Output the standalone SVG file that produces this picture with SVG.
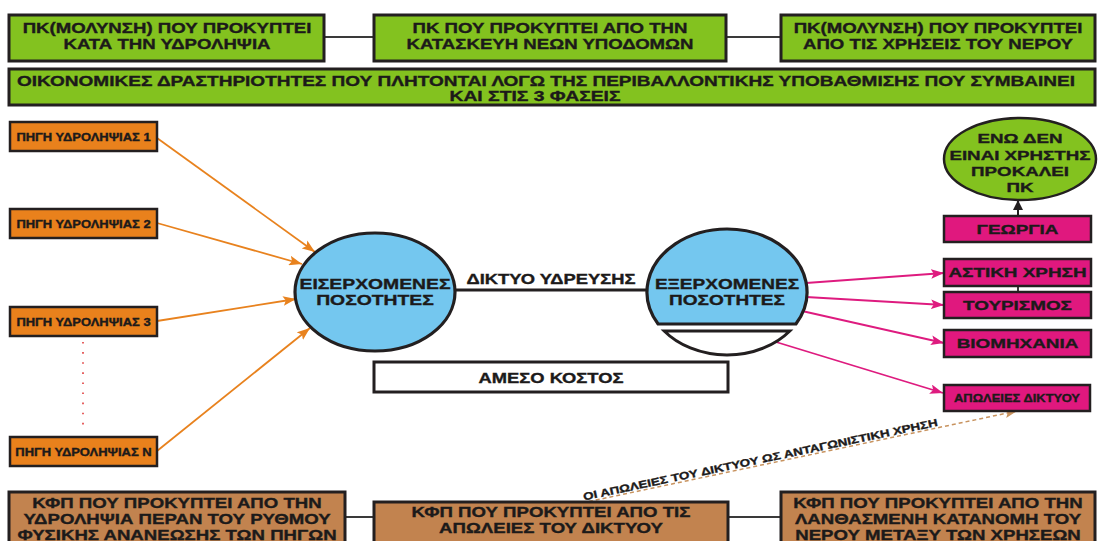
<svg xmlns="http://www.w3.org/2000/svg" width="1107" height="541" viewBox="0 0 1107 541">
  <style>
    .lbl{font-family:"Liberation Sans",Arial,sans-serif;font-weight:bold;fill:#1c1a1a;stroke:#1c1a1a;stroke-width:0.35;text-anchor:middle}
    .green{fill:#83C21F;stroke:#231F20;stroke-width:3}
    .orange{fill:#E9811C;stroke:#231F20;stroke-width:2.5}
    .magenta{fill:#E0187E;stroke:#231F20;stroke-width:2.5}
    .brown{fill:#C2834F;stroke:#231F20;stroke-width:3}
    .blue{fill:#74C7EF;stroke:#231F20;stroke-width:3.2}
    .plain{fill:#fff;stroke:#231F20;stroke-width:3}
    .link{stroke:#3a3a3a;stroke-width:2;fill:none}
    .oarr{stroke:#E8821E;stroke-width:1.8;fill:none;marker-end:url(#headO)}
    .marr{stroke:#DE1B7F;stroke-width:1.8;fill:none;marker-end:url(#headM)}
  </style>
  <defs>
    <marker id="headO" viewBox="0 0 12 9" refX="12" refY="4.5" markerWidth="13" markerHeight="10" markerUnits="userSpaceOnUse" orient="auto">
      <path d="M0,0 L12,4.5 L0,9 L2.5,4.5 Z" fill="#E8821E"/>
    </marker>
    <marker id="headM" viewBox="0 0 12 9" refX="12" refY="4.5" markerWidth="13" markerHeight="10" markerUnits="userSpaceOnUse" orient="auto">
      <path d="M0,0 L12,4.5 L0,9 L2.5,4.5 Z" fill="#DE1B7F"/>
    </marker>
    <marker id="headK" viewBox="0 0 10 10" refX="10" refY="5" markerWidth="10" markerHeight="10" markerUnits="userSpaceOnUse" orient="auto">
      <path d="M0,0 L10,5 L0,10 Z" fill="#231F20"/>
    </marker>
    <marker id="headT" viewBox="0 0 12 9" refX="12" refY="4.5" markerWidth="12" markerHeight="9" markerUnits="userSpaceOnUse" orient="auto">
      <path d="M0,0 L12,4.5 L0,9 L2.5,4.5 Z" fill="#C8935F"/>
    </marker>
  </defs>

  <rect width="1107" height="541" fill="#fff"/>

  <!-- connectors -->
  <g id="connectors">
    <line class="link" x1="324" y1="37" x2="374" y2="37"/>
    <line class="link" x1="726" y1="37" x2="781" y2="37"/>
    <line class="link" x1="345" y1="517" x2="374" y2="517"/>
    <line class="link" x1="728" y1="517" x2="781" y2="517"/>
    <line x1="455" y1="290" x2="647" y2="290" stroke="#231F20" stroke-width="3"/>
    <line class="link" x1="1018" y1="286" x2="1018" y2="292"/>
    <line x1="83" y1="342" x2="83" y2="432" stroke="#E03A3A" stroke-width="1.6" stroke-dasharray="1.6 8.5"/>
    <line class="oarr" x1="157" y1="138" x2="315" y2="252"/>
    <line class="oarr" x1="157" y1="223" x2="302" y2="264"/>
    <line class="oarr" x1="157" y1="321" x2="296" y2="299"/>
    <line class="oarr" x1="157" y1="451" x2="310" y2="328"/>
    <line class="marr" x1="806" y1="283" x2="944" y2="273"/>
    <line class="marr" x1="806" y1="297" x2="944" y2="305"/>
    <line class="marr" x1="802" y1="311" x2="944" y2="343"/>
    <line class="marr" x1="776" y1="342" x2="943" y2="393"/>
    <line x1="1018" y1="216" x2="1018" y2="200" stroke="#231F20" stroke-width="2" marker-end="url(#headK)"/>
    <line x1="582" y1="503" x2="1017" y2="411" stroke="#C8935F" stroke-width="1.5" stroke-dasharray="4 3" marker-end="url(#headT)"/>
    <text class="lbl" font-size="10.5" style="text-anchor:start" textLength="362" lengthAdjust="spacingAndGlyphs" transform="translate(584 500.5) rotate(-11.9)">ΟΙ ΑΠΩΛΕΙΕΣ ΤΟΥ ΔΙΚΤΥΟΥ ΩΣ ΑΝΤΑΓΩΝΙΣΤΙΚΗ ΧΡΗΣΗ</text>
    <text class="lbl" font-size="14" transform="translate(551 284) scale(1.31 1)">ΔΙΚΤΥΟ ΥΔΡΕΥΣΗΣ</text>
  </g>

  <!-- top row -->
  <g id="pk-ydrolipsia">
    <rect class="green" x="9" y="15" width="315" height="46"/>
    <text class="lbl" font-size="14" transform="translate(167 33) scale(1.33 1)">ΠΚ(ΜΟΛΥΝΣΗ) ΠΟΥ ΠΡΟΚΥΠΤΕΙ</text>
    <text class="lbl" font-size="14" transform="translate(167 49) scale(1.33 1)">ΚΑΤΑ ΤΗΝ ΥΔΡΟΛΗΨΙΑ</text>
  </g>
  <g id="pk-ypodomes">
    <rect class="green" x="374" y="15" width="352" height="46"/>
    <text class="lbl" font-size="14" transform="translate(550 33) scale(1.33 1)">ΠΚ ΠΟΥ ΠΡΟΚΥΠΤΕΙ ΑΠΟ ΤΗΝ</text>
    <text class="lbl" font-size="14" transform="translate(550 49) scale(1.33 1)">ΚΑΤΑΣΚΕΥΗ ΝΕΩΝ ΥΠΟΔΟΜΩΝ</text>
  </g>
  <g id="pk-xriseis">
    <rect class="green" x="781" y="15" width="314" height="46"/>
    <text class="lbl" font-size="14" transform="translate(938 33) scale(1.33 1)">ΠΚ(ΜΟΛΥΝΣΗ) ΠΟΥ ΠΡΟΚΥΠΤΕΙ</text>
    <text class="lbl" font-size="14" transform="translate(938 49) scale(1.33 1)">ΑΠΟ ΤΙΣ ΧΡΗΣΕΙΣ ΤΟΥ ΝΕΡΟΥ</text>
  </g>
  <g id="oikonomikes">
    <rect class="green" x="9" y="69" width="1086" height="36"/>
    <text class="lbl" font-size="14" style="text-anchor:start" x="17" y="85.5" textLength="1058" lengthAdjust="spacingAndGlyphs">ΟΙΚΟΝΟΜΙΚΕΣ ΔΡΑΣΤΗΡΙΟΤΗΤΕΣ ΠΟΥ ΠΛΗΤΟΝΤΑΙ ΛΟΓΩ ΤΗΣ ΠΕΡΙΒΑΛΛΟΝΤΙΚΗΣ ΥΠΟΒΑΘΜΙΣΗΣ ΠΟΥ ΣΥΜΒΑΙΝΕΙ</text>
    <text class="lbl" font-size="14" transform="translate(535 101) scale(1.38 1)">ΚΑΙ ΣΤΙΣ 3 ΦΑΣΕΙΣ</text>
  </g>

  <!-- sources -->
  <g id="pigi-1">
    <rect class="orange" x="10" y="122" width="147" height="29"/>
    <text class="lbl" font-size="10.2" transform="translate(83.5 140.5) scale(1.27 1)">ΠΗΓΗ ΥΔΡΟΛΗΨΙΑΣ 1</text>
  </g>
  <g id="pigi-2">
    <rect class="orange" x="10" y="209" width="147" height="29"/>
    <text class="lbl" font-size="10.2" transform="translate(83.5 227.5) scale(1.27 1)">ΠΗΓΗ ΥΔΡΟΛΗΨΙΑΣ 2</text>
  </g>
  <g id="pigi-3">
    <rect class="orange" x="10" y="307" width="147" height="29"/>
    <text class="lbl" font-size="10.2" transform="translate(83.5 325.5) scale(1.27 1)">ΠΗΓΗ ΥΔΡΟΛΗΨΙΑΣ 3</text>
  </g>
  <g id="pigi-n">
    <rect class="orange" x="10" y="437" width="147" height="29"/>
    <text class="lbl" font-size="10.2" transform="translate(83.5 455.5) scale(1.27 1)">ΠΗΓΗ ΥΔΡΟΛΗΨΙΑΣ N</text>
  </g>

  <!-- quantities -->
  <g id="eiserxomenes">
    <ellipse class="blue" cx="375" cy="292" rx="80" ry="59"/>
    <text class="lbl" font-size="15" transform="translate(375 289) scale(1.29 1)">ΕΙΣΕΡΧΟΜΕΝΕΣ</text>
    <text class="lbl" font-size="15" transform="translate(375 305) scale(1.29 1)">ΠΟΣΟΤΗΤΕΣ</text>
  </g>
  <g id="exerxomenes">
    <path class="blue" d="M658.1,324 A80,63 0 1 1 795.9,324 Z"/>
    <path class="plain" d="M664.2,331 L789.8,331 A80,63 0 0 1 664.2,331 Z"/>
    <text class="lbl" font-size="15" transform="translate(727 289) scale(1.27 1)">ΕΞΕΡΧΟΜΕΝΕΣ</text>
    <text class="lbl" font-size="15" transform="translate(727 305) scale(1.27 1)">ΠΟΣΟΤΗΤΕΣ</text>
  </g>
  <g id="ameso-kostos">
    <rect class="plain" x="374" y="362" width="354" height="30"/>
    <text class="lbl" font-size="14" transform="translate(551 383) scale(1.31 1)">ΑΜΕΣΟ ΚΟΣΤΟΣ</text>
  </g>

  <!-- uses -->
  <g id="den-xristis">
    <ellipse cx="1020" cy="159" rx="76" ry="41" fill="#83C21F" stroke="#231F20" stroke-width="2.5"/>
    <text class="lbl" font-size="13.5" transform="translate(1020 143) scale(1.39 1)">ΕΝΩ ΔΕΝ</text>
    <text class="lbl" font-size="13.5" transform="translate(1020 160) scale(1.39 1)">ΕΙΝΑΙ ΧΡΗΣΤΗΣ</text>
    <text class="lbl" font-size="13.5" transform="translate(1020 176) scale(1.39 1)">ΠΡΟΚΑΛΕΙ</text>
    <text class="lbl" font-size="13.5" transform="translate(1020 192) scale(1.39 1)">ΠΚ</text>
  </g>
  <g id="georgia">
    <rect class="magenta" x="944" y="216" width="147" height="26"/>
    <text class="lbl" font-size="13.5" transform="translate(1017.5 234) scale(1.4 1)">ΓΕΩΡΓΙΑ</text>
  </g>
  <g id="astiki">
    <rect class="magenta" x="944" y="259" width="147" height="27"/>
    <text class="lbl" font-size="13.5" transform="translate(1017.5 277) scale(1.4 1)">ΑΣΤΙΚΗ ΧΡΗΣΗ</text>
  </g>
  <g id="tourismos">
    <rect class="magenta" x="944" y="292" width="147" height="26"/>
    <text class="lbl" font-size="13.5" transform="translate(1017.5 309.5) scale(1.4 1)">ΤΟΥΡΙΣΜΟΣ</text>
  </g>
  <g id="viomixania">
    <rect class="magenta" x="944" y="330" width="147" height="27"/>
    <text class="lbl" font-size="13.5" transform="translate(1017.5 348) scale(1.4 1)">ΒΙΟΜΗΧΑΝΙΑ</text>
  </g>
  <g id="apoleies">
    <rect class="magenta" x="944" y="385" width="146" height="26"/>
    <text class="lbl" font-size="10.2" transform="translate(1017 402) scale(1.27 1)">ΑΠΩΛΕΙΕΣ ΔΙΚΤΥΟΥ</text>
  </g>

  <!-- bottom row -->
  <g id="kfp-ydrolipsia">
    <rect class="brown" x="9" y="492" width="336" height="70"/>
    <text class="lbl" font-size="14" transform="translate(177 508) scale(1.33 1)">ΚΦΠ ΠΟΥ ΠΡΟΚΥΠΤΕΙ ΑΠΟ ΤΗΝ</text>
    <text class="lbl" font-size="14" transform="translate(177 524) scale(1.33 1)">ΥΔΡΟΛΗΨΙΑ ΠΕΡΑΝ ΤΟΥ ΡΥΘΜΟΥ</text>
    <text class="lbl" font-size="14" transform="translate(177 539.5) scale(1.33 1)">ΦΥΣΙΚΗΣ ΑΝΑΝΕΩΣΗΣ ΤΩΝ ΠΗΓΩΝ</text>
  </g>
  <g id="kfp-apoleies">
    <rect class="brown" x="374" y="502" width="354" height="60"/>
    <text class="lbl" font-size="14" transform="translate(551 517) scale(1.33 1)">ΚΦΠ ΠΟΥ ΠΡΟΚΥΠΤΕΙ ΑΠΟ ΤΙΣ</text>
    <text class="lbl" font-size="14" transform="translate(551 533) scale(1.33 1)">ΑΠΩΛΕΙΕΣ ΤΟΥ ΔΙΚΤΥΟΥ</text>
  </g>
  <g id="kfp-katanomi">
    <rect class="brown" x="781" y="492" width="314" height="70"/>
    <text class="lbl" font-size="14" transform="translate(938 508) scale(1.33 1)">ΚΦΠ ΠΟΥ ΠΡΟΚΥΠΤΕΙ ΑΠΟ ΤΗΝ</text>
    <text class="lbl" font-size="14" transform="translate(938 524) scale(1.33 1)">ΛΑΝΘΑΣΜΕΝΗ ΚΑΤΑΝΟΜΗ ΤΟΥ</text>
    <text class="lbl" font-size="14" transform="translate(938 539.5) scale(1.33 1)">ΝΕΡΟΥ ΜΕΤΑΞΥ ΤΩΝ ΧΡΗΣΕΩΝ</text>
  </g>
</svg>
